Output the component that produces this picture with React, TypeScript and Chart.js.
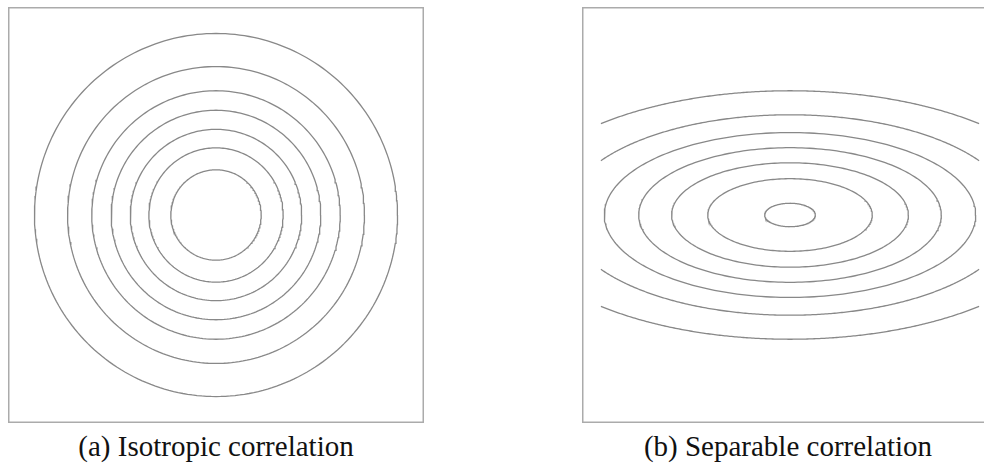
import React, { useEffect, useRef } from "react";
import { Chart, registerables } from "chart.js";

Chart.register(...registerables);

// Contour levels of the isotropic correlation: circle radii (grid units).
const isoRadii = [0.239, 0.355, 0.453, 0.554, 0.657, 0.785, 0.96];

// Contour levels of the separable correlation: ellipse semi-axes (grid units).
const sepAxisX = [0.134, 0.435, 0.626, 0.8, 0.982, 1.19, 1.475];
const sepAxisY = [0.062, 0.192, 0.276, 0.356, 0.436, 0.53, 0.657];

// The contour grid covers [-1, 1] in both directions; the frame is a bit wider.
const GRID_EXTENT = 1;
const FRAME_EXTENT = 1.1;

const captions = ["(a) Isotropic correlation", "(b) Separable correlation"];

type Pt = { x: number; y: number };

// Sample an axis-aligned ellipse, keeping only the arcs that lie inside the grid.
function ellipseArcs(ax: number, ay: number, limit: number): Pt[][] {
  const steps = 240;
  const sample = (t0: number, t1: number): Pt[] => {
    const pts: Pt[] = [];
    for (let i = 0; i <= steps; i++) {
      const t = t0 + ((t1 - t0) * i) / steps;
      pts.push({ x: ax * Math.cos(t), y: ay * Math.sin(t) });
    }
    return pts;
  };
  if (ax <= limit) return [sample(0, Math.PI * 2)];
  const t0 = Math.acos(limit / ax);
  return [sample(t0, Math.PI - t0), sample(Math.PI + t0, Math.PI * 2 - t0)];
}

const framePlugin = {
  id: "frame",
  afterDraw(chart: Chart) {
    const { ctx, chartArea } = chart;
    const { left, top, right, bottom } = chartArea;
    ctx.save();
    ctx.strokeStyle = "#ababab";
    ctx.lineWidth = 1.5;
    ctx.strokeRect(left + 0.75, top + 0.75, right - left - 1.5, bottom - top - 1.5);
    ctx.restore();
  },
};

function ContourPanel({
  arcs,
  left,
  top,
  size,
}: {
  arcs: Pt[][];
  left: number;
  top: number;
  size: number;
}) {
  const ref = useRef<HTMLCanvasElement | null>(null);

  useEffect(() => {
    if (!ref.current) return;
    const chart = new Chart(ref.current, {
      type: "scatter",
      data: {
        datasets: arcs.map((pts) => ({
          data: pts,
          showLine: true,
          pointRadius: 0,
          borderColor: "#888888",
          borderWidth: 1.3,
          tension: 0,
          fill: false,
        })),
      },
      options: {
        animation: false,
        responsive: false,
        events: [],
        layout: { padding: 0 },
        plugins: {
          legend: { display: false },
          tooltip: { enabled: false },
        },
        scales: {
          x: { type: "linear", min: -FRAME_EXTENT, max: FRAME_EXTENT, display: false },
          y: { type: "linear", min: -FRAME_EXTENT, max: FRAME_EXTENT, display: false },
        },
      },
      plugins: [framePlugin],
    });
    return () => chart.destroy();
  }, [arcs]);

  return (
    <canvas
      ref={ref}
      width={size}
      height={size}
      style={{ position: "absolute", left, top, width: size, height: size, display: "block" }}
    />
  );
}

const isoArcs: Pt[][] = isoRadii.flatMap((r) => ellipseArcs(r, r, GRID_EXTENT));
const sepArcs: Pt[][] = sepAxisX.flatMap((ax, i) => ellipseArcs(ax, sepAxisY[i], GRID_EXTENT));

const captionStyle = (center: number): React.CSSProperties => ({
  position: "absolute",
  left: center - 250,
  width: 500,
  top: 432,
  textAlign: "center",
  fontFamily: '"Liberation Serif", "Times New Roman", serif',
  fontSize: 29,
  lineHeight: "29px",
  color: "#111",
  whiteSpace: "nowrap",
});

export default function App() {
  return (
    <div
      style={{
        position: "fixed",
        left: 0,
        top: 0,
        width: 984,
        height: 466,
        overflow: "hidden",
        background: "#fff",
      }}
    >
      <ContourPanel arcs={isoArcs} left={8} top={7} size={416} />
      <ContourPanel arcs={sepArcs} left={582} top={7} size={416} />
      <div style={captionStyle(216)}>{captions[0]}</div>
      <div style={captionStyle(788)}>{captions[1]}</div>
    </div>
  );
}
